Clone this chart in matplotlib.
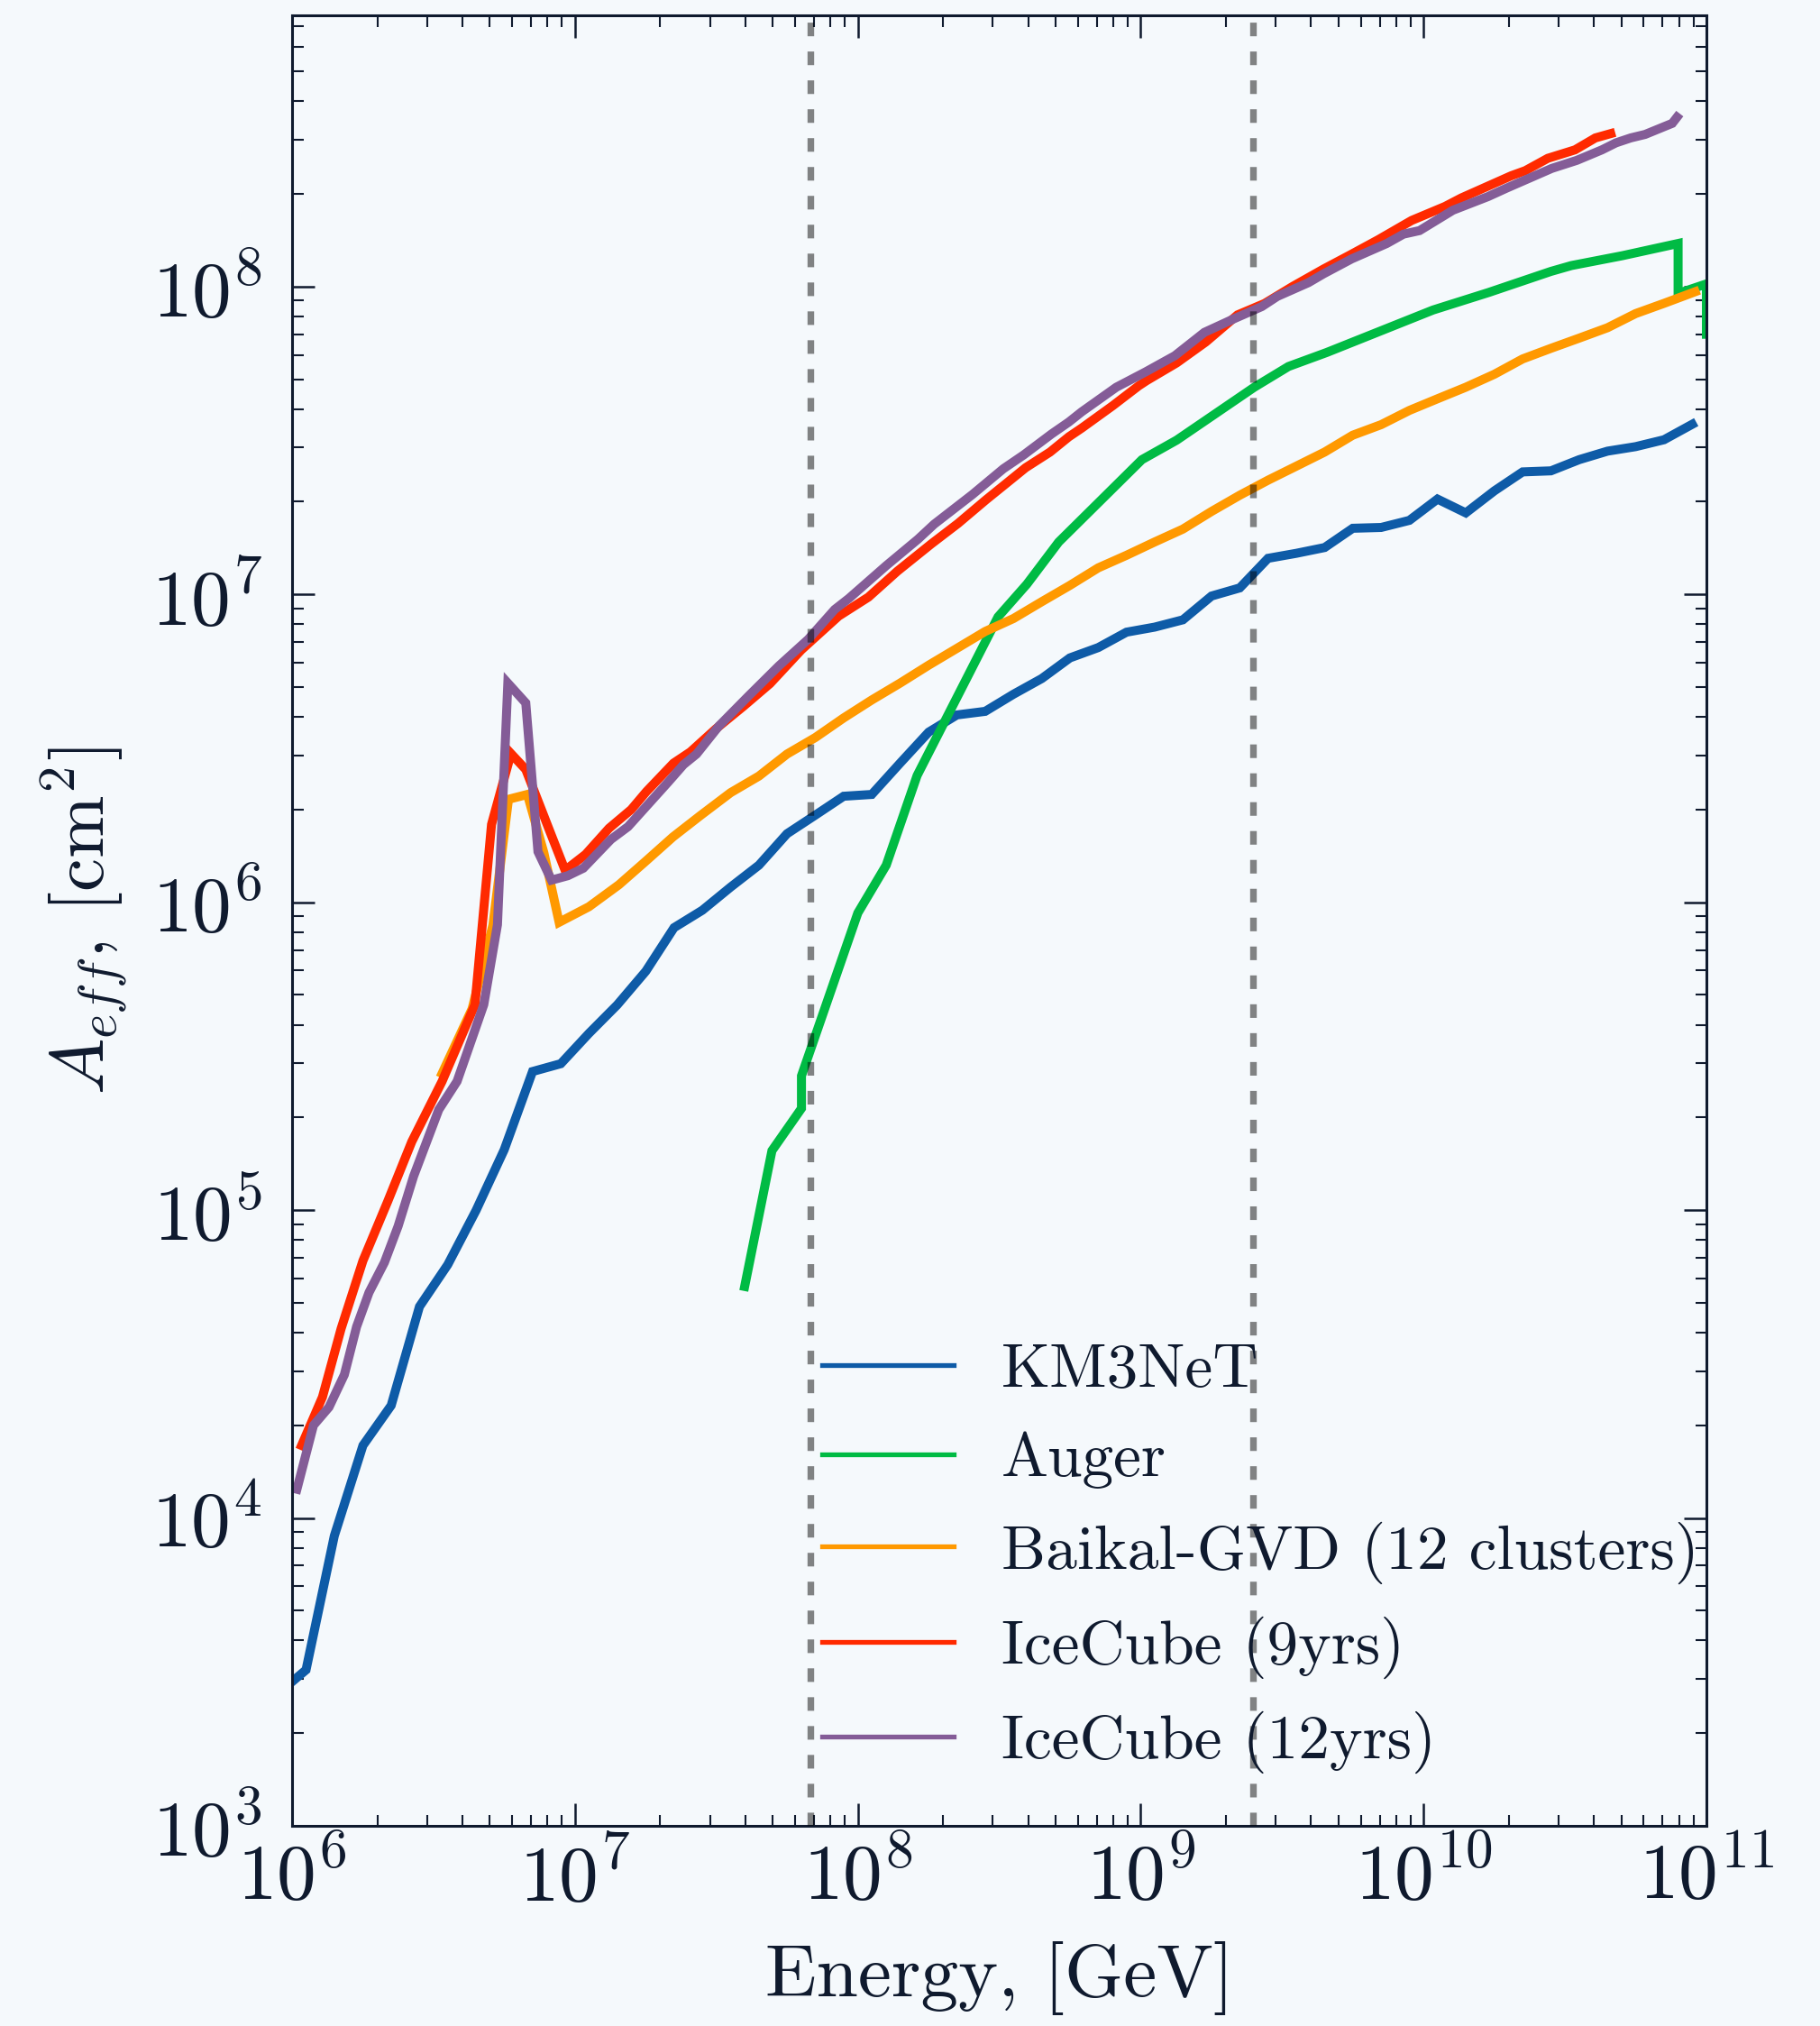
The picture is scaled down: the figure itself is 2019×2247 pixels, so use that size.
import matplotlib
matplotlib.use("Agg")
import matplotlib.pyplot as plt
from matplotlib.ticker import LogLocator, LogFormatterSciNotation, NullFormatter

BG = "#f5f9fc"
INK = "#0f1a2e"

plt.rcParams.update({
    "font.family": "serif",
    "font.serif": ["cmr10"],
    "mathtext.fontset": "cm",
    "axes.formatter.use_mathtext": True,
    "axes.unicode_minus": False,
})

# ---- effective areas, A_eff [cm^2] versus neutrino energy [GeV] ----
km3net_energy = [
    1.00e6, 1.12e6, 1.41e6, 1.78e6, 2.24e6, 2.82e6, 3.55e6, 4.47e6, 5.62e6, 7.08e6, 8.91e6,
    1.12e7, 1.41e7, 1.78e7, 2.24e7, 2.82e7, 3.55e7, 4.47e7, 5.62e7, 7.08e7, 8.91e7,
    1.12e8, 1.41e8, 1.78e8, 2.24e8, 2.82e8, 3.55e8, 4.47e8, 5.62e8, 7.08e8, 8.91e8,
    1.12e9, 1.41e9, 1.78e9, 2.24e9, 2.82e9, 3.55e9, 4.47e9, 5.62e9, 7.08e9, 8.91e9,
    1.12e10, 1.41e10, 1.78e10, 2.24e10, 2.82e10, 3.55e10, 4.47e10, 5.62e10, 7.08e10, 8.91e10,
]
km3net_aeff = [
    2.94e3, 3.21e3, 8.75e3, 1.72e4, 2.32e4, 4.86e4, 6.65e4, 9.98e4, 1.57e5, 2.82e5, 2.99e5,
    3.75e5, 4.64e5, 5.97e5, 8.27e5, 9.42e5, 1.12e6, 1.32e6, 1.67e6, 1.92e6, 2.21e6,
    2.24e6, 2.83e6, 3.57e6, 4.06e6, 4.17e6, 4.74e6, 5.33e6, 6.22e6, 6.72e6, 7.54e6,
    7.83e6, 8.27e6, 9.88e6, 1.05e7, 1.31e7, 1.36e7, 1.42e7, 1.64e7, 1.65e7, 1.74e7,
    2.04e7, 1.84e7, 2.17e7, 2.50e7, 2.52e7, 2.74e7, 2.92e7, 3.02e7, 3.18e7, 3.57e7,
]

auger_energy = [
    3.98e7, 4.97e7, 6.32e7, 6.32e7, 1.00e8, 1.26e8, 1.62e8, 3.13e8, 3.96e8, 5.13e8,
    1.01e9, 1.34e9, 2.52e9, 3.33e9, 4.55e9, 1.08e10, 1.70e10, 2.82e10, 3.33e10, 5.05e10,
    7.94e10, 7.94e10, 1.00e11, 1.00e11,
]
auger_aeff = [
    5.65e4, 1.56e5, 2.14e5, 2.73e5, 9.23e5, 1.32e6, 2.58e6, 8.45e6, 1.08e7, 1.48e7,
    2.74e7, 3.17e7, 4.71e7, 5.50e7, 6.11e7, 8.39e7, 9.57e7, 1.12e8, 1.17e8, 1.26e8,
    1.38e8, 9.50e7, 1.02e8, 7.00e7,
]

baikal_energy = [
    3.39e6, 4.33e6, 5.13e6, 5.82e6, 6.79e6, 7.76e6, 8.79e6,
    1.12e7, 1.43e7, 1.78e7, 2.22e7, 2.77e7, 3.55e7, 4.47e7, 5.62e7, 7.08e7, 8.91e7,
    1.12e8, 1.41e8, 1.78e8, 2.24e8, 2.82e8, 3.55e8, 4.47e8, 5.62e8, 7.08e8, 8.91e8,
    1.12e9, 1.41e9, 1.78e9, 2.24e9, 2.82e9, 3.55e9, 4.47e9, 5.62e9, 7.08e9, 8.91e9,
    1.12e10, 1.41e10, 1.78e10, 2.24e10, 2.82e10, 3.55e10, 4.47e10, 5.62e10, 7.08e10, 9.12e10,
]
baikal_aeff = [
    2.78e5, 4.51e5, 8.45e5, 2.16e6, 2.24e6, 1.45e6, 8.61e5,
    9.67e5, 1.14e6, 1.36e6, 1.63e6, 1.91e6, 2.27e6, 2.57e6, 3.03e6, 3.43e6, 3.97e6,
    4.54e6, 5.15e6, 5.89e6, 6.68e6, 7.58e6, 8.35e6, 9.47e6, 1.07e7, 1.22e7, 1.34e7,
    1.48e7, 1.63e7, 1.86e7, 2.10e7, 2.35e7, 2.61e7, 2.90e7, 3.29e7, 3.56e7, 3.96e7,
    4.32e7, 4.71e7, 5.19e7, 5.82e7, 6.30e7, 6.80e7, 7.35e7, 8.17e7, 8.82e7, 9.62e7,
]

icecube9_energy = [
    1.08e6, 1.28e6, 1.49e6, 1.78e6, 2.18e6, 2.65e6, 3.39e6, 4.43e6, 5.07e6, 5.94e6,
    6.70e6, 8.17e6, 9.23e6, 1.09e7, 1.32e7, 1.58e7, 1.79e7, 2.23e7, 2.56e7, 3.15e7,
    3.94e7, 4.89e7, 6.31e7, 8.55e7, 1.09e8, 1.38e8, 1.82e8, 2.26e8, 2.84e8, 3.36e8,
    3.92e8, 4.78e8, 5.57e8, 6.19e8, 7.96e8, 9.84e8, 1.05e9, 1.34e9, 1.70e9, 2.20e9,
    2.74e9, 3.44e9, 4.43e9, 5.53e9, 6.92e9, 9.08e9, 1.19e10, 1.36e10, 2.04e10, 2.29e10,
    2.75e10, 3.43e10, 4.05e10, 4.59e10,
]
icecube9_aeff = [
    1.72e4, 2.47e4, 4.12e4, 6.85e4, 1.07e5, 1.67e5, 2.62e5, 4.65e5, 1.79e6, 3.04e6,
    2.70e6, 1.69e6, 1.27e6, 1.43e6, 1.74e6, 2.00e6, 2.29e6, 2.83e6, 3.08e6, 3.66e6,
    4.33e6, 5.13e6, 6.60e6, 8.50e6, 9.80e6, 1.19e7, 1.46e7, 1.70e7, 2.03e7, 2.30e7,
    2.58e7, 2.90e7, 3.25e7, 3.47e7, 4.10e7, 4.76e7, 4.95e7, 5.65e7, 6.61e7, 8.09e7,
    8.81e7, 1.00e8, 1.14e8, 1.27e8, 1.42e8, 1.64e8, 1.82e8, 1.94e8, 2.29e8, 2.38e8,
    2.61e8, 2.78e8, 3.04e8, 3.14e8,
]

icecube12_energy = [
    1.04e6, 1.19e6, 1.35e6, 1.53e6, 1.69e6, 1.87e6, 2.12e6, 2.37e6, 2.69e6, 3.30e6,
    3.83e6, 4.76e6, 5.32e6, 5.79e6, 6.70e6, 7.40e6, 8.26e6, 9.44e6, 1.07e7, 1.34e7,
    1.54e7, 2.13e7, 2.42e7, 2.69e7, 3.23e7, 4.11e7, 5.26e7, 6.67e7, 8.28e7, 9.29e7,
    1.26e8, 1.63e8, 1.86e8, 2.54e8, 3.27e8, 3.86e8, 4.84e8, 5.57e8, 6.19e8, 8.20e8,
    1.04e9, 1.32e9, 1.68e9, 2.13e9, 2.68e9, 3.04e9, 3.92e9, 4.43e9, 5.57e9, 6.03e9,
    7.41e9, 8.49e9, 9.68e9, 1.27e10, 1.69e10, 1.97e10, 2.84e10, 3.48e10, 4.27e10, 4.79e10,
    5.40e10, 6.07e10, 7.57e10, 7.87e10,
]
icecube12_aeff = [
    1.24e4, 2.00e4, 2.29e4, 2.92e4, 4.18e4, 5.40e4, 6.76e4, 8.87e4, 1.29e5, 2.12e5,
    2.62e5, 4.65e5, 8.45e5, 5.15e6, 4.44e6, 1.46e6, 1.18e6, 1.22e6, 1.29e6, 1.60e6,
    1.76e6, 2.45e6, 2.80e6, 3.03e6, 3.74e6, 4.68e6, 5.86e6, 7.14e6, 8.93e6, 9.70e6,
    1.24e7, 1.51e7, 1.69e7, 2.11e7, 2.56e7, 2.84e7, 3.32e7, 3.63e7, 3.92e7, 4.71e7,
    5.28e7, 5.96e7, 7.10e7, 7.85e7, 8.61e7, 9.29e7, 1.03e8, 1.10e8, 1.23e8, 1.27e8,
    1.38e8, 1.48e8, 1.52e8, 1.77e8, 1.96e8, 2.09e8, 2.42e8, 2.57e8, 2.78e8, 2.93e8,
    3.04e8, 3.12e8, 3.39e8, 3.55e8,
]

series_labels = ["KM3NeT", "Auger", "Baikal-GVD (12 clusters)", "IceCube (9yrs)", "IceCube (12yrs)"]
series_colors = ["#0e5ba7", "#00bb44", "#ff9900", "#ff2a00", "#845c97"]

# energies marking the vertical reference lines [GeV]
reference_energies = [6.8e7, 2.5e9]

x_limits = (1e6, 1e11)
y_limits = (1e3, 7.6e8)

# ---- figure ----
fig = plt.figure(figsize=(20.19, 22.47), dpi=100, facecolor=BG)
ax = fig.add_axes([0.1605, 0.0988, 0.7771, 0.8936])
ax.set_facecolor(BG)
ax.set_xscale("log")
ax.set_yscale("log")

series = [
    (km3net_energy, km3net_aeff),
    (auger_energy, auger_aeff),
    (baikal_energy, baikal_aeff),
    (icecube9_energy, icecube9_aeff),
    (icecube12_energy, icecube12_aeff),
]
for (e, a), lab, col in zip(series, series_labels, series_colors):
    ax.plot(e, a, color=col, lw=7.2, label=lab, solid_joinstyle="miter", zorder=2)

for e_ref in reference_energies:
    ax.axvline(e_ref, color="black", alpha=0.48, lw=5.3,
               linestyle=(0, (2.05, 2.3)), zorder=3)

ax.set_xlim(*x_limits)
ax.set_ylim(*y_limits)

# a label on every decade, minor ticks at 2..9 within each decade
for axis in (ax.xaxis, ax.yaxis):
    axis.set_major_locator(LogLocator(base=10.0, numticks=30))
    axis.set_major_formatter(LogFormatterSciNotation(base=10.0))
    axis.set_minor_locator(LogLocator(base=10.0, subs=[2, 3, 4, 5, 6, 7, 8, 9], numticks=300))
    axis.set_minor_formatter(NullFormatter())

ax.tick_params(which="both", direction="in", top=True, right=True,
               colors=INK, labelcolor=INK)
ax.tick_params(which="major", length=18, width=1.8, labelsize=63)
ax.tick_params(axis="x", which="major", pad=11)
ax.tick_params(axis="y", which="major", pad=24)
ax.tick_params(which="minor", length=9, width=1.5)
for sp in ax.spines.values():
    sp.set_linewidth(2.2)
    sp.set_color(INK)

ax.set_xlabel("Energy, [GeV]", fontsize=60, color=INK, labelpad=20)
ax.set_ylabel(r"$A_{eff}$, [cm$^2$]", fontsize=60, color=INK, labelpad=18)

leg = ax.legend(loc="upper left", bbox_to_anchor=(0.375, 0.2665), frameon=False,
                fontsize=50, handlelength=2.1, handletextpad=0.76,
                labelspacing=0.52, borderaxespad=0.0, borderpad=0.0)
for lh in leg.get_lines():
    lh.set_linewidth(3.8)
for t in leg.get_texts():
    t.set_color(INK)

fig.savefig("out.png", dpi=100, facecolor=BG)
